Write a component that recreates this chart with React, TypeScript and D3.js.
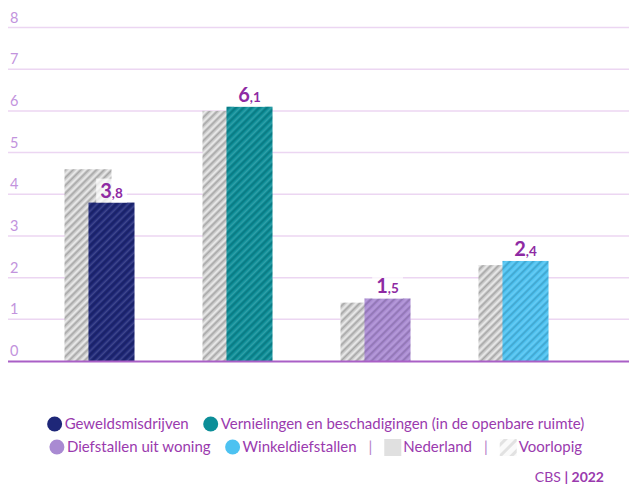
import { useRef, useEffect } from 'react';
import * as d3 from 'd3';

const categories = ['Geweldsmisdrijven', 'Vernielingen en beschadigingen (in de openbare ruimte)', 'Diefstallen uit woning', 'Winkeldiefstallen'];
const regionValues = [3.8, 6.1, 1.5, 2.4];
const nederlandValues = [4.6, 6.0, 1.4, 2.3];
const barColors = ['#1e2778', '#0c8e98', '#a98ad2', '#4dc2f1'];
const yTicks = [0, 1, 2, 3, 4, 5, 6, 7, 8];

const legendRows = [
  [
    { type: 'dot', label: categories[0], color: barColors[0] },
    { type: 'dot', label: categories[1], color: barColors[1] },
  ],
  [
    { type: 'dot', label: categories[2], color: barColors[2] },
    { type: 'dot', label: categories[3], color: barColors[3] },
    { type: 'sep', label: '|' },
    { type: 'square', label: 'Nederland' },
    { type: 'sep', label: '|' },
    { type: 'hatch', label: 'Voorlopig' },
  ],
];

const W = 629;
const H = 488;
const FONT = 'Lato, "Source Sans Pro", sans-serif';
const PURPLE = '#9a3aae';

export default function App() {
  const svgRef = useRef<SVGSVGElement>(null);

  useEffect(() => {
    if (!svgRef.current) return;
    const svg = d3.select(svgRef.current);
    svg.selectAll('*').remove();

    const defs = svg.append('defs');

    // grey hatch for Nederland bars
    const gp = defs.append('pattern')
      .attr('id', 'hatchGrey')
      .attr('patternUnits', 'userSpaceOnUse')
      .attr('width', 5.5)
      .attr('height', 5.5)
      .attr('patternTransform', 'rotate(45)');
    gp.append('rect').attr('width', 5.5).attr('height', 5.5).attr('fill', '#dadada');
    gp.append('rect').attr('x', 0).attr('width', 0.8).attr('height', 5.5).attr('fill', '#bdbdbd');
    gp.append('rect').attr('x', 0.8).attr('width', 1.4).attr('height', 5.5).attr('fill', '#a6a6a6');
    gp.append('rect').attr('x', 2.2).attr('width', 0.8).attr('height', 5.5).attr('fill', '#c2c2c2');
    gp.append('rect').attr('x', 3.8).attr('width', 1.2).attr('height', 5.5).attr('fill', '#ebebeb');

    // soft overlay hatch for coloured bars
    const op = defs.append('pattern')
      .attr('id', 'hatchOverlay')
      .attr('patternUnits', 'userSpaceOnUse')
      .attr('width', 5.5)
      .attr('height', 5.5)
      .attr('patternTransform', 'rotate(45)');
    op.append('rect').attr('x', 0).attr('width', 1.8).attr('height', 5.5).attr('fill', '#000').attr('opacity', 0.13);
    op.append('rect').attr('x', 3.2).attr('width', 1.5).attr('height', 5.5).attr('fill', '#fff').attr('opacity', 0.15);

    // legend hatch
    const lp = defs.append('pattern')
      .attr('id', 'hatchLegend')
      .attr('patternUnits', 'userSpaceOnUse')
      .attr('width', 8)
      .attr('height', 8)
      .attr('patternTransform', 'rotate(45)');
    lp.append('rect').attr('width', 8).attr('height', 8).attr('fill', '#fafafa');
    lp.append('rect').attr('x', 0).attr('width', 3).attr('height', 8).attr('fill', '#e2e2e2');

    const x = d3.scaleBand<string>()
      .domain(categories)
      .range([8, W])
      .paddingInner(0)
      .paddingOuter(0.25);

    const y = d3.scaleLinear().domain([0, 8]).range([361, 27.5]);

    // grid
    const grid = svg.append('g');
    yTicks.filter(t => t > 0).forEach(t => {
      grid.append('line')
        .attr('x1', 8)
        .attr('x2', W)
        .attr('y1', y(t))
        .attr('y2', y(t))
        .attr('stroke', '#ecd6f2')
        .attr('stroke-width', 1.5);
    });
    yTicks.forEach(t => {
      grid.append('text')
        .attr('x', 10)
        .attr('y', y(t) - 5)
        .attr('font-family', FONT)
        .attr('font-size', 14.5)
        .attr('fill', '#c293dd')
        .text(t);
    });

    const barW = 46;
    const bars = svg.append('g');
    categories.forEach((c, i) => {
      const cx = (x(c) as number) + x.bandwidth() / 2;
      // Nederland (behind)
      bars.append('rect')
        .attr('x', cx - 47)
        .attr('y', y(nederlandValues[i]))
        .attr('width', barW + 1)
        .attr('height', y(0) - y(nederlandValues[i]))
        .attr('fill', 'url(#hatchGrey)');
      // region
      bars.append('rect')
        .attr('x', cx - 23)
        .attr('y', y(regionValues[i]))
        .attr('width', barW)
        .attr('height', y(0) - y(regionValues[i]))
        .attr('fill', barColors[i]);
      bars.append('rect')
        .attr('x', cx - 23)
        .attr('y', y(regionValues[i]))
        .attr('width', barW)
        .attr('height', y(0) - y(regionValues[i]))
        .attr('fill', 'url(#hatchOverlay)');

      // value label
      const [intPart, decPart] = regionValues[i].toFixed(1).split('.');
      const lg = bars.append('g');
      const bg = lg.append('rect').attr('fill', '#ffffff').attr('opacity', 0.75);
      const t = lg.append('text')
        .attr('x', cx)
        .attr('y', y(regionValues[i]) - 5)
        .attr('text-anchor', 'middle')
        .attr('font-family', FONT)
        .attr('font-weight', 700)
        .attr('fill', '#8e2aa3');
      t.append('tspan').attr('font-size', 20).text(intPart);
      t.append('tspan').attr('font-size', 13.5).text(',' + decPart);
      const bb = (t.node() as SVGTextElement).getBBox();
      bg.attr('x', bb.x - 4)
        .attr('y', bb.y + 1)
        .attr('width', bb.width + 8)
        .attr('height', y(regionValues[i]) - bb.y - 1);
    });

    // baseline
    svg.append('line')
      .attr('x1', 8)
      .attr('x2', W)
      .attr('y1', y(0) + 0.5)
      .attr('y2', y(0) + 0.5)
      .attr('stroke', '#a95fc6')
      .attr('stroke-width', 2);

    // legend
    const rowY = [424, 447];
    const fs = 15;
    legendRows.forEach((row, ri) => {
      const g = svg.append('g');
      let cur = 0;
      row.forEach((item, k) => {
        if (k > 0) cur += item.type === 'sep' || row[k - 1].type === 'sep' ? 12 : 14;
        if (item.type === 'dot') {
          g.append('circle').attr('cx', cur + 8).attr('cy', rowY[ri]).attr('r', 7.5).attr('fill', item.color as string);
          cur += 18;
        } else if (item.type === 'square') {
          g.append('rect').attr('x', cur).attr('y', rowY[ri] - 8).attr('width', 17).attr('height', 17).attr('fill', '#e0e0e0');
          cur += 19;
        } else if (item.type === 'hatch') {
          g.append('rect').attr('x', cur).attr('y', rowY[ri] - 8).attr('width', 17).attr('height', 17).attr('fill', 'url(#hatchLegend)');
          cur += 19;
        }
        const txt = g.append('text')
          .attr('x', cur)
          .attr('y', rowY[ri] + 5)
          .attr('font-family', FONT)
          .attr('font-size', fs)
          .attr('fill', item.type === 'sep' ? '#b47cc8' : PURPLE)
          .text(item.label);
        cur += (txt.node() as SVGTextElement).getComputedTextLength();
      });
      g.attr('transform', `translate(${W / 2 - cur / 2 + 1},0)`);
    });

    // source
    const src = svg.append('text')
      .attr('x', 604)
      .attr('y', 482)
      .attr('text-anchor', 'end')
      .attr('font-family', FONT)
      .attr('font-size', 14)
      .attr('fill', PURPLE);
    src.append('tspan').text('CBS ');
    src.append('tspan').attr('font-weight', 700).text('| 2022');
  }, []);

  return (
    <svg
      ref={svgRef}
      width={W}
      height={H}
      style={{ position: 'absolute', left: 0, top: 0, background: '#fff' }}
    />
  );
}
